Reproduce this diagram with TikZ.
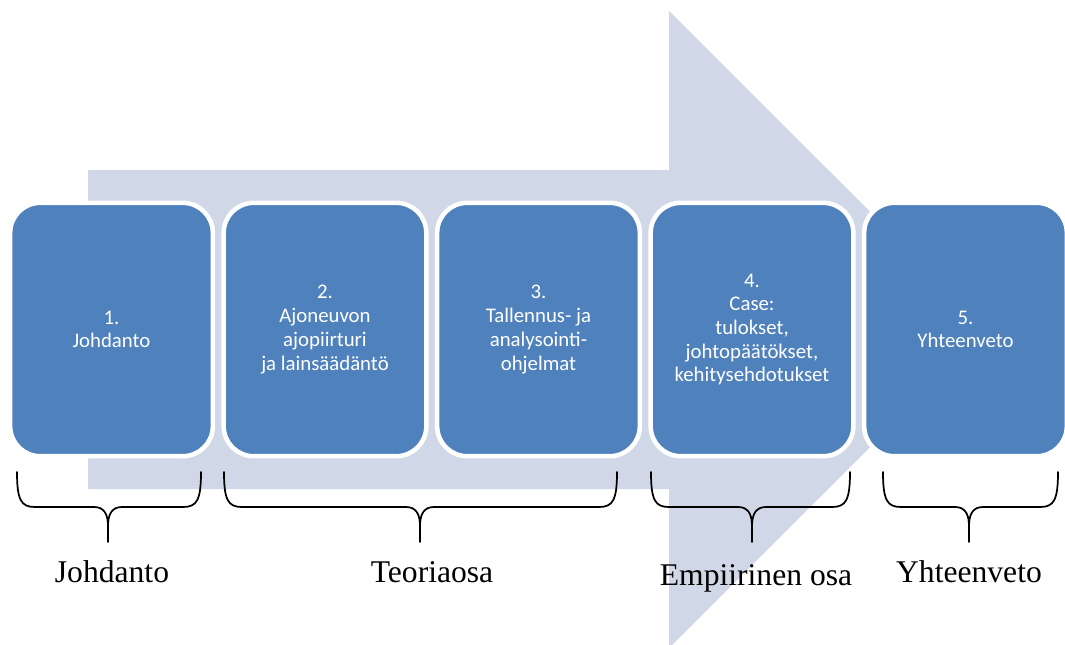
\documentclass[tikz,border=0pt]{standalone}
\usepackage{fontspec}
\setmainfont{Liberation Serif}
\newfontfamily\boxfont{Carlito}
\usepackage{tikz}
\usepackage{xcolor}
\definecolor{stepblue}{RGB}{79,129,189}
\definecolor{arrowgrey}{RGB}{208,216,232}

\begin{document}
\begin{tikzpicture}[x=0.75pt,y=0.75pt,yscale=-1,xscale=1,
  phase/.style={draw=white,line width=3.4pt,fill=stepblue,rounded corners=22.5pt,
    minimum width=152pt,minimum height=190pt,inner sep=0pt,
    text=white,align=center,font=\boxfont\fontsize{15.6}{17.8}\selectfont},
  part/.style={anchor=base,inner sep=0pt,font=\fontsize{23.7}{28}\selectfont},
  bracket/.style={line width=1.3pt,line cap=round}]
\useasboundingbox (0,0) rectangle (1065,644);
\clip (0,0) rectangle (1065,644);
% arrow in the back
\fill[arrowgrey] (88,170) -- (669,170) -- (669,11) -- (988,329.5) -- (669,648) -- (669,489) -- (88,489) -- cycle;
% the five chapters
\draw (111.5,329.5) node [phase] (ch1) {1.\\Johdanto};
\draw (325,329.5) node [phase] (ch2) {2.\\Ajoneuvon\\ajopiirturi\\ja lainsäädäntö};
\draw (538.5,329.5) node [phase] (ch3) {3.\\Tallennus- ja\\analysointi-\\ohjelmat};
\draw (752,329.5) node [phase] (ch4) {4.\\Case:\\tulokset,\\johtopäätökset,\\kehitysehdotukset};
\draw (965.5,329.5) node [phase] (ch5) {5.\\Yhteenveto};
% braces under the chapters
\foreach \l/\r/\m in {17/201/108, 224/617/420, 651/850/752, 883/1058/969} {
  \draw[bracket] (\l,472) .. controls (\l,500) and ({\l+4},507) .. ({\l+18},507) -- ({\m-14},507)
    .. controls ({\m-4},507) and (\m,514) .. (\m,526) -- (\m,542);
  \draw[bracket] (\r,472) .. controls (\r,500) and ({\r-4},507) .. ({\r-18},507) -- ({\m+14},507)
    .. controls ({\m+4},507) and (\m,514) .. (\m,526);
}
% part names
\draw (112,582) node [part] (pt1) {Johdanto};
\draw (432,582) node [part] (pt2) {Teoriaosa};
\draw (756,585) node [part] (pt3) {Empiirinen osa};
\draw (969,582) node [part] (pt4) {Yhteenveto};
\end{tikzpicture}
\end{document}
